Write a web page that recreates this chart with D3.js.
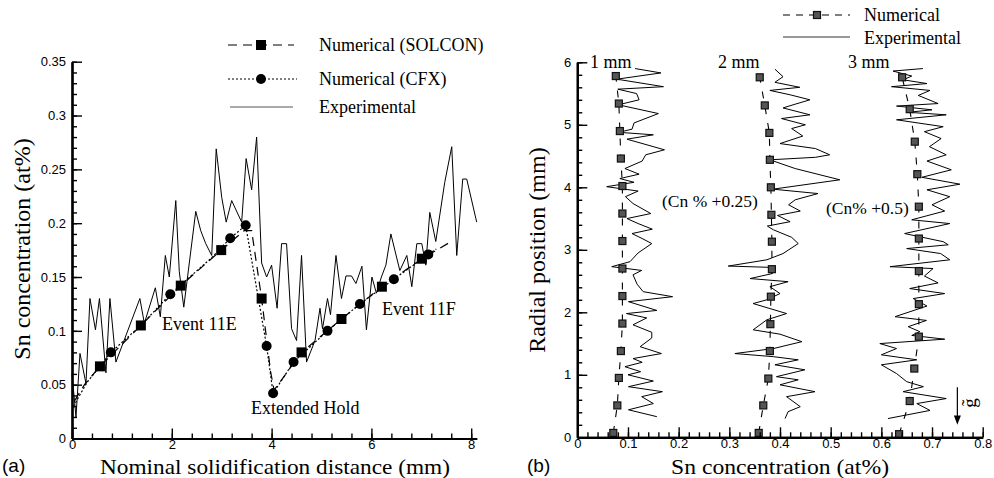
<!DOCTYPE html>
<html>
<head>
<meta charset="utf-8">
<script src="https://cdn.jsdelivr.net/npm/d3@7"></script>
<style>
body { margin: 0; background: #fff; }
svg text { fill: #000; }
.serif { font-family: "Liberation Serif", "Times New Roman", serif; }
.tick text { font-family: "Liberation Sans", Arial, sans-serif; font-size: 13px; }
</style>
</head>
<body>
<svg width="994" height="478"></svg>
<script>
// ---- panel (a): concentration along solidification distance [mm, at%]
var solconLine = [[0.05,0.035],[0.25,0.050],[0.56,0.067],[1.38,0.105],[2.18,0.142],[2.99,0.175],[3.45,0.193],[3.60,0.193],[3.80,0.130],[3.98,0.062],[4.05,0.045],[4.60,0.080],[5.40,0.111],[6.21,0.141],[7.01,0.167],[7.60,0.183]];
var solconMarks = [[0.56,0.067],[1.38,0.105],[2.18,0.142],[2.99,0.175],[3.80,0.130],[4.60,0.080],[5.40,0.111],[6.21,0.141],[7.01,0.167]];
var cfxLine = [[0.03,0.030],[0.30,0.052],[0.78,0.080],[1.40,0.106],[1.97,0.134],[2.80,0.168],[3.17,0.186],[3.48,0.198],[3.90,0.086],[4.03,0.042],[4.44,0.071],[5.12,0.100],[5.77,0.125],[6.45,0.148],[7.14,0.171],[7.30,0.176]];
var cfxMarks = [[0.78,0.080],[1.97,0.134],[3.17,0.186],[3.48,0.198],[3.90,0.086],[4.03,0.042],[4.44,0.071],[5.12,0.100],[5.77,0.125],[6.45,0.148],[7.14,0.171]];
var expA = [[0.00,0.060],[0.08,0.020],[0.16,0.079],[0.28,0.051],[0.36,0.130],[0.47,0.101],[0.55,0.130],[0.68,0.061],[0.76,0.130],[0.88,0.071],[1.36,0.130],[1.45,0.107],[1.67,0.140],[1.77,0.113],[1.87,0.170],[1.95,0.150],[2.08,0.221],[2.15,0.155],[2.24,0.122],[2.48,0.211],[2.58,0.193],[2.68,0.181],[2.80,0.170],[2.89,0.269],[3.00,0.224],[3.09,0.201],[3.20,0.221],[3.40,0.201],[3.49,0.260],[3.60,0.231],[3.70,0.280],[3.80,0.163],[3.90,0.150],[4.00,0.161],[4.11,0.121],[4.20,0.181],[4.30,0.181],[4.40,0.102],[4.50,0.091],[4.60,0.170],[4.70,0.071],[4.87,0.091],[4.97,0.121],[5.02,0.102],[5.12,0.130],[5.18,0.115],[5.29,0.170],[5.40,0.130],[5.49,0.151],[5.60,0.151],[5.69,0.144],[5.81,0.160],[5.90,0.101],[6.01,0.150],[6.10,0.135],[6.20,0.150],[6.29,0.161],[6.39,0.190],[6.57,0.156],[6.71,0.170],[6.81,0.141],[6.91,0.181],[7.01,0.181],[7.09,0.161],[7.17,0.210],[7.29,0.183],[7.47,0.238],[7.61,0.271],[7.71,0.170],[7.83,0.241],[7.91,0.241],[8.11,0.201]];
var aXTicks = [0, 2, 4, 6, 8];
var aXLabels = ["0", "2", "4", "6", "8"];
var aYTicks = [0, 0.05, 0.1, 0.15, 0.2, 0.25, 0.3, 0.35];
var aYLabels = ["0", "0.05", "0.1", "0.15", "0.2", "0.25", "0.3", "0.35"];

// ---- panel (b): radial profiles [at%, mm]
var num1 = [[0.071,0.07],[0.079,0.51],[0.082,0.95],[0.086,1.38],[0.089,1.82],[0.089,2.26],[0.089,2.70],[0.089,3.14],[0.089,3.58],[0.089,4.02],[0.086,4.46],[0.084,4.90],[0.082,5.34],[0.076,5.78]];
var num2 = [[0.358,0.07],[0.367,0.51],[0.377,0.94],[0.380,1.38],[0.381,1.81],[0.382,2.25],[0.384,2.69],[0.384,3.13],[0.383,3.56],[0.382,4.00],[0.380,4.44],[0.379,4.87],[0.370,5.31],[0.360,5.76]];
var num3 = [[0.635,0.05],[0.656,0.58],[0.665,1.10],[0.674,1.61],[0.674,2.13],[0.674,2.66],[0.674,3.18],[0.674,3.69],[0.671,4.21],[0.666,4.73],[0.656,5.25],[0.641,5.76]];
var exp1 = [[0.114,5.90],[0.165,5.83],[0.078,5.73],[0.170,5.61],[0.080,5.57],[0.117,5.50],[0.122,5.40],[0.081,5.32],[0.160,5.18],[0.112,5.03],[0.108,4.93],[0.082,4.88],[0.150,4.84],[0.098,4.77],[0.172,4.60],[0.135,4.52],[0.128,4.42],[0.094,4.30],[0.122,4.21],[0.084,4.14],[0.112,4.08],[0.058,4.01],[0.120,3.94],[0.095,3.85],[0.110,3.74],[0.145,3.58],[0.098,3.50],[0.120,3.42],[0.148,3.33],[0.108,3.26],[0.128,3.18],[0.147,3.10],[0.120,2.95],[0.104,2.81],[0.068,2.73],[0.127,2.67],[0.110,2.60],[0.118,2.45],[0.130,2.33],[0.188,2.25],[0.101,2.17],[0.157,2.03],[0.097,1.98],[0.137,1.91],[0.110,1.80],[0.147,1.68],[0.147,1.59],[0.124,1.45],[0.166,1.34],[0.110,1.26],[0.128,1.20],[0.094,1.13],[0.125,1.05],[0.100,1.00],[0.150,0.90],[0.101,0.81],[0.168,0.73],[0.127,0.65],[0.150,0.54],[0.101,0.44],[0.157,0.33]];
var exp2 = [[0.390,5.89],[0.406,5.77],[0.390,5.68],[0.439,5.60],[0.380,5.55],[0.420,5.48],[0.459,5.40],[0.430,5.33],[0.406,5.27],[0.459,5.16],[0.403,5.10],[0.450,5.00],[0.423,4.94],[0.445,4.82],[0.400,4.70],[0.470,4.62],[0.498,4.52],[0.470,4.48],[0.380,4.44],[0.430,4.30],[0.518,4.12],[0.386,3.97],[0.475,3.90],[0.430,3.80],[0.417,3.72],[0.440,3.62],[0.395,3.55],[0.420,3.45],[0.375,3.38],[0.387,3.32],[0.423,3.20],[0.436,3.10],[0.406,2.94],[0.374,2.84],[0.298,2.74],[0.377,2.72],[0.385,2.62],[0.341,2.54],[0.416,2.49],[0.380,2.41],[0.400,2.30],[0.374,2.20],[0.347,2.14],[0.413,1.98],[0.374,1.88],[0.347,1.72],[0.400,1.65],[0.443,1.53],[0.387,1.42],[0.311,1.34],[0.387,1.29],[0.436,1.24],[0.390,1.16],[0.449,1.08],[0.393,0.97],[0.436,0.92],[0.400,0.84],[0.469,0.73],[0.413,0.65],[0.440,0.49],[0.416,0.41],[0.410,0.30]];
var exp3 = [[0.682,5.90],[0.623,5.86],[0.660,5.78],[0.643,5.72],[0.690,5.66],[0.620,5.61],[0.696,5.55],[0.673,5.47],[0.712,5.34],[0.630,5.30],[0.700,5.24],[0.653,5.20],[0.728,5.16],[0.630,5.08],[0.722,4.97],[0.685,4.89],[0.718,4.78],[0.695,4.65],[0.728,4.52],[0.690,4.42],[0.738,4.28],[0.680,4.16],[0.755,4.05],[0.690,3.96],[0.735,3.85],[0.700,3.72],[0.725,3.62],[0.660,3.48],[0.735,3.42],[0.646,3.26],[0.722,3.13],[0.732,3.08],[0.650,3.02],[0.717,2.94],[0.735,2.84],[0.617,2.73],[0.702,2.70],[0.685,2.58],[0.712,2.47],[0.656,2.38],[0.725,2.30],[0.663,2.22],[0.690,2.10],[0.627,1.93],[0.689,1.87],[0.653,1.77],[0.676,1.69],[0.660,1.63],[0.725,1.57],[0.597,1.50],[0.630,1.42],[0.600,1.32],[0.670,1.24],[0.600,1.16],[0.630,1.02],[0.650,0.89],[0.683,0.81],[0.643,0.73],[0.728,0.62],[0.670,0.54],[0.696,0.43],[0.613,0.30]];
var bXTicks = [0, 0.1, 0.2, 0.3, 0.4, 0.5, 0.6, 0.7, 0.8];
var bXLabels = ["0", "0.1", "0.2", "0.3", "0.4", "0.5", "0.6", "0.7", "0.8"];
var bYTicks = [0, 1, 2, 3, 4, 5, 6];
var bYLabels = ["0", "1", "2", "3", "4", "5", "6"];

var svg = d3.select('svg');

function drawAxes(x, y, xMajor, xMinor, xLabels, yMajor, yMinor, yLabels) {
    var y0 = y.range()[0], x0 = x.range()[0];
    svg.append("g").attr("transform", "translate(0," + y0 + ")")
        .call(d3.axisBottom(x).tickValues(xMinor).tickSize(-5).tickSizeOuter(0).tickFormat(""));
    svg.append("g").attr("transform", "translate(0," + y0 + ")")
        .call(d3.axisBottom(x).tickValues(xMajor).tickSize(-10).tickSizeOuter(0).tickPadding(1)
            .tickFormat(function(d, i) { return xLabels[i]; }));
    svg.append("g").attr("transform", "translate(" + x0 + ",0)")
        .call(d3.axisLeft(y).tickValues(yMinor).tickSize(-5).tickSizeOuter(0).tickFormat(""));
    svg.append("g").attr("transform", "translate(" + x0 + ",0)")
        .call(d3.axisLeft(y).tickValues(yMajor).tickSize(-10).tickSizeOuter(0).tickPadding(6)
            .tickFormat(function(d, i) { return yLabels[i]; }));
    svg.selectAll(".domain").attr("stroke-width", 2.2);
    svg.selectAll(".tick line").attr("stroke-width", 1.4);
}

function range(a, b, step) {
    return d3.range(Math.round((b - a) / step) + 1).map(function(i) { return +(a + i * step).toFixed(4); });
}

function text(x, y, str, size, anchor) {
    return svg.append("text").attr("class", "serif").attr("x", x).attr("y", y)
        .attr("font-size", size).attr("text-anchor", anchor || "start").text(str);
}

// ================= panel (a)
var xa = d3.scaleLinear().domain([0, 8.11]).range([72, 476.7]);
var ya = d3.scaleLinear().domain([0, 0.35]).range([438.5, 61.7]);
var lineA = d3.line().x(function(d) { return xa(d[0]); }).y(function(d) { return ya(d[1]); });

svg.append("path").datum(expA).attr("fill", "none").attr("stroke", "#000")
    .attr("stroke-width", 1).attr("stroke-linejoin", "round").attr("d", lineA);
svg.append("path").datum(solconLine).attr("fill", "none").attr("stroke", "#000")
    .attr("stroke-width", 1.2).attr("stroke-dasharray", "9,6").attr("d", lineA);
svg.append("path").datum(cfxLine).attr("fill", "none").attr("stroke", "#000")
    .attr("stroke-width", 1.2).attr("stroke-dasharray", "2,2").attr("d", lineA);

svg.selectAll(".sq-a").data(solconMarks).enter().append("rect")
    .attr("x", function(d) { return xa(d[0]) - 5; }).attr("y", function(d) { return ya(d[1]) - 5; })
    .attr("width", 10).attr("height", 10).attr("fill", "#000");
svg.selectAll(".ci-a").data(cfxMarks).enter().append("circle")
    .attr("cx", function(d) { return xa(d[0]); }).attr("cy", function(d) { return ya(d[1]); })
    .attr("r", 5).attr("fill", "#000");

drawAxes(xa, ya, aXTicks, range(0, 8, 0.4), aXLabels, aYTicks, range(0, 0.35, 0.01), aYLabels);

// legend (a)
var legA = [45, 79, 107];
svg.append("line").attr("x1", 228).attr("x2", 294).attr("y1", legA[0]).attr("y2", legA[0])
    .attr("stroke", "#000").attr("stroke-width", 1.2).attr("stroke-dasharray", "9,6");
svg.append("rect").attr("x", 256).attr("y", legA[0] - 5).attr("width", 10).attr("height", 10);
svg.append("line").attr("x1", 228).attr("x2", 297).attr("y1", legA[1]).attr("y2", legA[1])
    .attr("stroke", "#000").attr("stroke-width", 1.2).attr("stroke-dasharray", "2,2");
svg.append("circle").attr("cx", 261).attr("cy", legA[1]).attr("r", 5);
svg.append("line").attr("x1", 230).attr("x2", 293).attr("y1", legA[2]).attr("y2", legA[2])
    .attr("stroke", "#555").attr("stroke-width", 1);
text(319, legA[0] + 6, "Numerical (SOLCON)", 18);
text(319, legA[1] + 6, "Numerical (CFX)", 18);
text(319, legA[2] + 6, "Experimental", 18);

text(162, 330, "Event 11E", 18);
text(382, 315, "Event 11F", 18);
text(251, 414, "Extended Hold", 18);

text(275, 473.5, "Nominal solidification distance (mm)", 21.5, "middle")
    .attr("textLength", 350).attr("lengthAdjust", "spacingAndGlyphs");
svg.append("text").attr("class", "serif").attr("transform", "translate(30,249) rotate(-90)")
    .attr("font-size", 24).attr("text-anchor", "middle").text("Sn concentration (at%)");
svg.append("text").attr("x", 2).attr("y", 472).attr("font-family", "Liberation Sans, Arial, sans-serif")
    .attr("font-size", 19).text("(a)");

// ================= panel (b)
var xb = d3.scaleLinear().domain([0, 0.8]).range([577.3, 982.7]);
var yb = d3.scaleLinear().domain([0, 6]).range([437.3, 62.3]);
var lineB = d3.line().x(function(d) { return xb(d[0]); }).y(function(d) { return yb(d[1]); });

[exp1, exp2, exp3].forEach(function(p) {
    svg.append("path").datum(p).attr("fill", "none").attr("stroke", "#000")
        .attr("stroke-width", 1).attr("stroke-linejoin", "round").attr("d", lineB);
});
[num1, num2, num3].forEach(function(p) {
    svg.append("path").datum(p).attr("fill", "none").attr("stroke", "#000")
        .attr("stroke-width", 1.1).attr("stroke-dasharray", "7,9").attr("d", lineB);
    svg.append("g").selectAll("rect").data(p).enter().append("rect")
        .attr("x", function(d) { return xb(d[0]) - 3.5; }).attr("y", function(d) { return yb(d[1]) - 3.5; })
        .attr("width", 7).attr("height", 7).attr("fill", "#555").attr("stroke", "#111").attr("stroke-width", 1.2);
});

drawAxes(xb, yb, bXTicks, range(0, 0.8, 0.02), bXLabels, bYTicks, range(0, 6, 0.2), bYLabels);

// legend (b)
svg.append("line").attr("x1", 783).attr("x2", 850).attr("y1", 15).attr("y2", 15)
    .attr("stroke", "#000").attr("stroke-width", 1.1).attr("stroke-dasharray", "7,6");
svg.append("rect").attr("x", 813.5).attr("y", 11.5).attr("width", 7).attr("height", 7)
    .attr("fill", "#555").attr("stroke", "#111").attr("stroke-width", 1.2);
svg.append("line").attr("x1", 783).attr("x2", 850).attr("y1", 37).attr("y2", 37)
    .attr("stroke", "#333").attr("stroke-width", 1);
text(864, 21, "Numerical", 18);
text(864, 44, "Experimental", 18);

text(590, 68, "1 mm", 18);
text(718, 68, "2 mm", 18);
text(848, 68, "3 mm", 18);
text(662, 207, "(Cn % +0.25)", 17.5);
text(826, 214, "(Cn% +0.5)", 17.5);

// gravity arrow
svg.append("line").attr("x1", xb(0.75)).attr("x2", xb(0.75)).attr("y1", yb(0.8)).attr("y2", yb(0.3))
    .attr("stroke", "#000").attr("stroke-width", 1.2);
svg.append("path").attr("d", d3.line()([[xb(0.75) - 3.5, yb(0.35)], [xb(0.75) + 3.5, yb(0.35)], [xb(0.75), yb(0.2)]]))
    .attr("fill", "#000");
svg.append("text").attr("class", "serif").attr("transform", "translate(976,403) rotate(-90)")
    .attr("font-size", 19).attr("text-anchor", "middle").text("g\u0303");

text(780, 473.5, "Sn concentration (at%)", 21.5, "middle")
    .attr("textLength", 218).attr("lengthAdjust", "spacingAndGlyphs");
svg.append("text").attr("class", "serif").attr("transform", "translate(545,250) rotate(-90)")
    .attr("font-size", 24).attr("text-anchor", "middle").text("Radial position (mm)");
svg.append("text").attr("x", 527).attr("y", 472).attr("font-family", "Liberation Sans, Arial, sans-serif")
    .attr("font-size", 19).text("(b)");
</script>
</body>
</html>
